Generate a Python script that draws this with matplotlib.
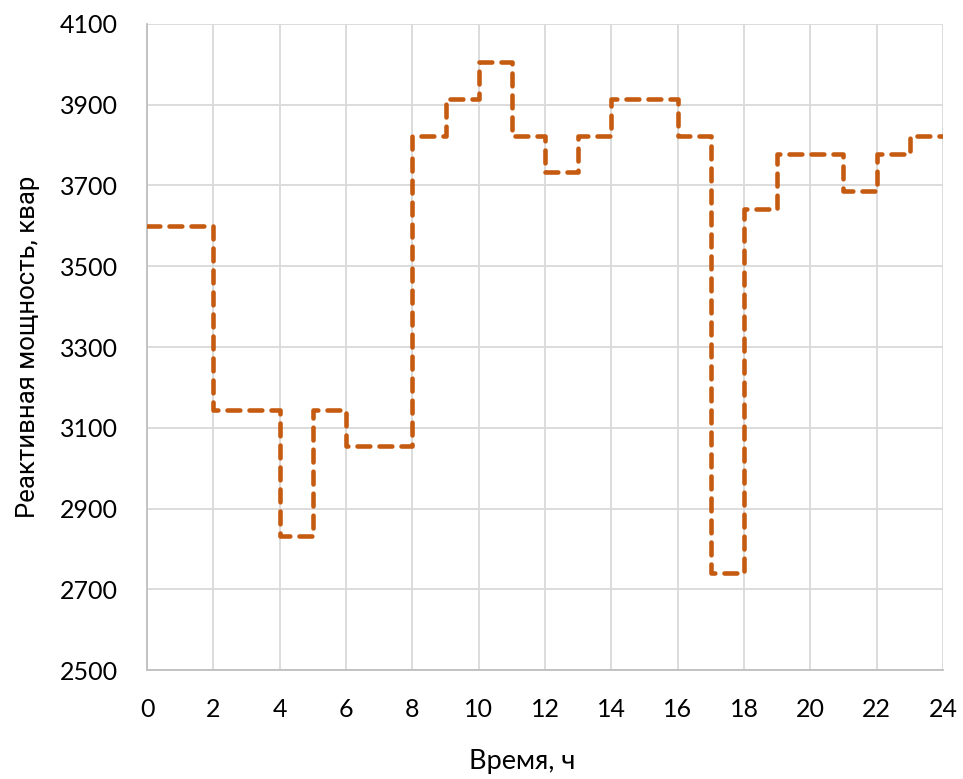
import matplotlib
matplotlib.use("Agg")
import matplotlib.pyplot as plt

# Hourly reactive power, kvar (value holds from hour h to h+1)
hours = list(range(0, 25))
reactive_power = [3600, 3600, 3145, 3145, 2831, 3145, 3056, 3056,
                  3823, 3913, 4005, 3823, 3733, 3823, 3913, 3913,
                  3823, 2740, 3641, 3777, 3777, 3687, 3777, 3823]
x_ticks = list(range(0, 25, 2))
y_ticks = list(range(2500, 4101, 200))

fig = plt.figure(figsize=(9.63, 7.79), dpi=100)
ax = fig.add_axes([0.1527, 0.1399, 0.8265, 0.8293])

y_step = reactive_power + [reactive_power[-1]]
ax.plot(hours, y_step, drawstyle="steps-post", color="#C55A11",
        linewidth=3.3, linestyle=(0, (2.8, 2.0)),
        dash_capstyle="round", dash_joinstyle="round", zorder=3)

ax.set_xlim(0, 24)
ax.set_ylim(2500, 4100)
ax.set_xticks(x_ticks)
ax.set_yticks(y_ticks)
ax.grid(True, color="#D9D9D9", linewidth=1.3)
ax.set_axisbelow(True)
for side in ("top", "right"):
    ax.spines[side].set_visible(False)
for side in ("left", "bottom"):
    ax.spines[side].set_color("#BFBFBF")
    ax.spines[side].set_linewidth(1.3)
ax.tick_params(axis="y", length=0, labelsize=18, colors="#000000", pad=21)
ax.tick_params(axis="x", length=0, labelsize=18, colors="#000000", pad=20)
for lbl in ax.get_xticklabels() + ax.get_yticklabels():
    lbl.set_fontfamily(["Lato", "DejaVu Sans"])

ax.set_xlabel("Время, ч", fontsize=19.5, family=["Lato", "DejaVu Sans"],
              labelpad=20, x=0.471)
ax.set_ylabel("Реактивная мощность, квар", fontsize=18.5,
              family=["Liberation Sans Narrow", "Roboto", "DejaVu Sans"],
              labelpad=14)

fig.savefig("out.png", dpi=100, facecolor="white")
